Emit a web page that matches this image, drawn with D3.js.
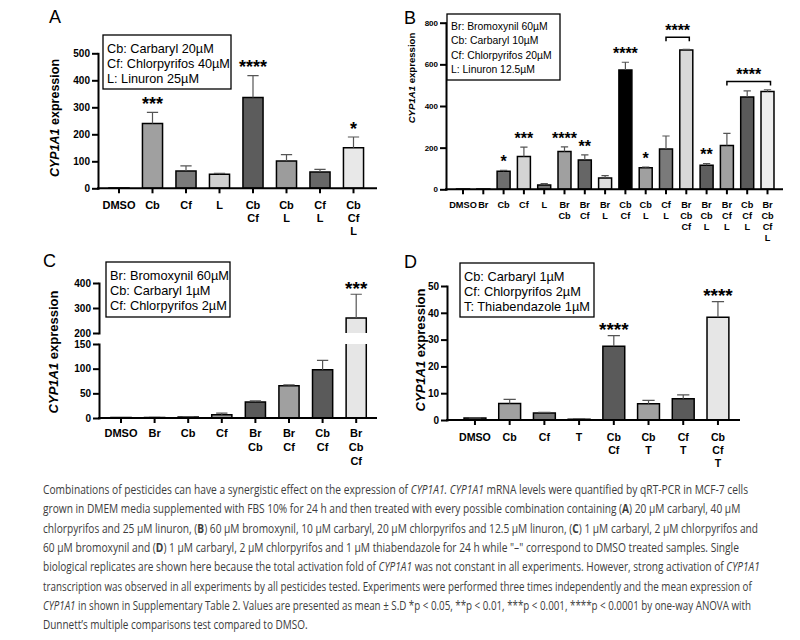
<!DOCTYPE html>
<html>
<head>
<meta charset="utf-8">
<script src="https://cdn.jsdelivr.net/npm/d3@7"></script>
<style>
  body { margin: 0; background: #fff; }
</style>
</head>
<body>
<script>
// ---- data ----
var catsA = ["DMSO", "Cb", "Cf", "L", "Cb Cf", "Cb L", "Cf L", "Cb Cf L"];
var meanA = [1, 240, 64, 52, 336, 101, 60, 150];
var sdA   = [0, 41, 19, 3, 81, 24, 10, 40];
var starsA = ["", "***", "", "", "****", "", "", "*"];
var ticksA = [0, 100, 200, 300, 400, 500];
var legendA = ["Cb: Carbaryl 20µM", "Cf: Chlorpyrifos 40µM", "L: Linuron 25µM"];

var catsB = ["DMSO", "Br", "Cb", "Cf", "L", "Br Cb", "Br Cf", "Br L", "Cb Cf", "Cb L",
             "Cf L", "Br Cb Cf", "Br Cb L", "Br Cf L", "Cb Cf L", "Br Cb Cf L"];
var meanB = [1, 1, 87, 157, 21, 182, 141, 54, 573, 104, 193, 669, 115, 210, 443, 470];
var sdB   = [0, 0, 4, 46, 6, 22, 24, 12, 37, 3, 63, 3, 9, 59, 30, 8];
var starsB = ["", "", "*", "***", "", "****", "**", "", "****", "*", "", "", "**", "", "", ""];
var bracketsB = [["Cf L", "Br Cb Cf", 730, "****"], ["Br Cf L", "Br Cb Cf L", 518, "****"]];
var ticksB = [0, 200, 400, 600, 800];
var legendB = ["Br: Bromoxynil 60µM", "Cb: Carbaryl 10µM", "Cf: Chlorpyrifos 20µM", "L: Linuron 12.5µM"];

var catsC = ["DMSO", "Br", "Cb", "Cf", "Br Cb", "Br Cf", "Cb Cf", "Br Cb Cf"];
var meanC = [0.8, 1.2, 2, 6.5, 32.5, 65.5, 98, 260];
var sdC   = [0, 0.3, 0.6, 3.5, 2.3, 1.5, 19, 95];
var starsC = ["", "", "", "", "", "", "", "***"];
var ticksCLow = [0, 50, 100, 150];
var ticksCHigh = [200, 300, 400];
var legendC = ["Br: Bromoxynil 60µM", "Cb: Carbaryl 1µM", "Cf: Chlorpyrifos 2µM"];

var catsD = ["DMSO", "Cb", "Cf", "T", "Cb Cf", "Cb T", "Cf T", "Cb Cf T"];
var meanD = [0.7, 6.2, 2.6, 0.25, 27.5, 6.1, 7.9, 38.3];
var sdD   = [0.1, 1.5, 0.25, 0.15, 4, 1.2, 1.5, 5.9];
var starsD = ["", "", "", "", "****", "", "", "****"];
var ticksD = [0, 10, 20, 30, 40, 50];
var legendD = ["Cb: Carbaryl 1µM", "Cf: Chlorpyrifos 2µM", "T: Thiabendazole 1µM"];

var captionLines = [
  [["Combinations of pesticides can have a synergistic effect on the expression of ", ""], ["CYP1A1.", "i"], [" ", ""], ["CYP1A1", "i"], [" mRNA levels were quantified by qRT-PCR in MCF-7 cells", ""]],
  [["grown in DMEM media supplemented with FBS 10% for 24 h and then treated with every possible combination containing (", ""], ["A", "b"], [") 20 µM carbaryl, 40 µM", ""]],
  [["chlorpyrifos and 25 µM linuron, (", ""], ["B", "b"], [") 60 µM bromoxynil, 10 µM carbaryl, 20 µM chlorpyrifos and 12.5 µM linuron, (", ""], ["C", "b"], [") 1 µM carbaryl, 2 µM chlorpyrifos and", ""]],
  [["60 µM bromoxynil and (", ""], ["D", "b"], [") 1 µM carbaryl, 2 µM chlorpyrifos and 1 µM thiabendazole for 24 h while \"–\" correspond to DMSO treated samples. Single", ""]],
  [["biological replicates are shown here because the total activation fold of ", ""], ["CYP1A1", "i"], [" was not constant in all experiments. However, strong activation of ", ""], ["CYP1A1", "i"]],
  [["transcription was observed in all experiments by all pesticides tested. Experiments were performed three times independently and the mean expression of", ""]],
  [["CYP1A1", "i"], [" in shown in Supplementary Table 2. Values are presented as mean ± S.D *p < 0.05, **p < 0.01, ***p < 0.001, ****p < 0.0001 by one-way ANOVA with", ""]],
  [["Dunnett’s multiple comparisons test compared to DMSO.", ""]]
];
var captionWidths = [706, 698, 716, 697, 717, 709, 709, 265];

// ---- drawing ----
var FONT = "'Liberation Sans', Arial, sans-serif";
var svg = d3.select("body").append("svg").attr("width", 800).attr("height", 640);

function drawPanel(p) {
  var g = svg.append("g").attr("font-family", FONT);
  var x = d3.scaleBand().domain(p.cats).range(p.band).paddingInner(p.pad).paddingOuter(p.pad / 2);
  var bw = x.bandwidth();
  var segs = p.segs.map(function(s) {
    return {dom: s.dom, ticks: s.ticks, y: d3.scaleLinear().domain(s.dom).range(s.rng)};
  });
  var yv = function(v) {
    for (var k = 0; k < segs.length; k++) {
      if (v <= segs[k].dom[1] || k == segs.length - 1) return segs[k].y(v);
    }
  };
  var y0 = segs[0].y(0);

  // bars (split across axis breaks)
  p.cats.forEach(function(c, i) {
    var m = p.mean[i], xl = x(c), xr = xl + bw;
    segs.forEach(function(s, k) {
      if (k > 0 && m <= s.dom[0]) return;
      var yb = s.y(s.dom[0]), yt = s.y(Math.min(m, s.dom[1]));
      g.append("rect").attr("x", xl).attr("y", yt).attr("width", bw).attr("height", yb - yt)
        .attr("fill", p.fill(c));
      var d = "M" + xl + "," + yb + "V" + yt;
      d += (m <= s.dom[1]) ? "H" + xr : "M" + xr + "," + yt;
      d += "V" + yb;
      if (k == 0) d += "H" + xl;
      g.append("path").attr("d", d).attr("fill", "none").attr("stroke", "#000")
        .attr("stroke-width", 1.5);
    });
  });

  // error bars (upper only)
  p.cats.forEach(function(c, i) {
    if (!p.sd[i]) return;
    var cx = x(c) + bw / 2, yt = yv(p.mean[i] + p.sd[i]), ym = yv(p.mean[i]);
    var cw = bw * 0.28;
    g.append("path").attr("d", "M" + cx + "," + ym + "V" + yt + "M" + (cx - cw) + "," + yt + "H" + (cx + cw))
      .attr("stroke", "#555").attr("stroke-width", 1.2).attr("fill", "none");
  });

  // significance stars
  p.cats.forEach(function(c, i) {
    if (!p.stars[i]) return;
    g.append("text").attr("x", x(c) + bw / 2).attr("y", yv(p.mean[i] + p.sd[i]) + p.starDy)
      .attr("text-anchor", "middle").attr("font-size", p.starSize).attr("font-weight", "bold")
      .text(p.stars[i]);
  });

  (p.brackets || []).forEach(function(b) {
    var x1 = x(b[0]) + bw / 2, x2 = x(b[1]) + bw / 2 + 3, yb = yv(b[2]);
    g.append("path").attr("d", "M" + x1 + "," + (yb + 4) + "V" + yb + "H" + x2 + "V" + (yb + 4))
      .attr("stroke", "#000").attr("stroke-width", 1.5).attr("fill", "none");
    g.append("text").attr("x", (x1 + x2) / 2).attr("y", yb - 1).attr("text-anchor", "middle")
      .attr("font-size", p.starSize).attr("font-weight", "bold").text(b[3]);
  });

  // y axis segments
  segs.forEach(function(s) {
    var ax = g.append("g").attr("transform", "translate(" + p.x0 + ",0)")
      .call(d3.axisLeft(s.y).tickValues(s.ticks).tickSize(6).tickPadding(2).tickSizeOuter(0));
    ax.select(".domain").attr("stroke-width", 2).attr("stroke-linecap", "square");
    ax.selectAll(".tick line").attr("stroke-width", 2);
    ax.selectAll(".tick text").attr("font-size", p.tickFont).attr("font-weight", "bold")
      .attr("font-family", FONT).attr("fill", "#000");
  });

  // x axis
  g.append("line").attr("x1", p.x0 - 1).attr("x2", p.xEnd).attr("y1", y0).attr("y2", y0)
    .attr("stroke", "#000").attr("stroke-width", 2);
  p.cats.forEach(function(c) {
    var cx = x(c) + bw / 2;
    g.append("line").attr("x1", cx).attr("x2", cx).attr("y1", y0).attr("y2", y0 + 5)
      .attr("stroke", "#000").attr("stroke-width", 2);
    var t = g.append("text").attr("x", cx).attr("y", p.catY).attr("text-anchor", "middle")
      .attr("font-size", p.catFont).attr("font-weight", "bold");
    c.split(" ").forEach(function(w, j) {
      t.append("tspan").attr("x", cx).attr("dy", j ? p.catLine : 0).text(w);
    });
  });

  // y label
  var yl = g.append("text").attr("transform", "translate(" + p.ylab[0] + "," + p.ylab[1] + ") rotate(-90)")
    .attr("text-anchor", "middle").attr("dy", "0.35em").attr("font-size", p.ylab[2])
    .attr("font-weight", "bold");
  yl.append("tspan").attr("font-style", "italic").text("CYP1A1");
  yl.append("tspan").text(" expression");

  // legend box
  g.append("rect").attr("x", p.box[0]).attr("y", p.box[1]).attr("width", p.box[2]).attr("height", p.box[3])
    .attr("fill", "#fff").attr("stroke", "#000").attr("stroke-width", 1.3);
  p.legend.forEach(function(l, j) {
    g.append("text").attr("x", p.box[0] + 4).attr("y", p.legY + j * p.legStep)
      .attr("font-size", p.legFont).text(l);
  });

  // panel letter
  g.append("text").attr("x", p.letter[1]).attr("y", p.letter[2]).attr("font-size", 18).text(p.letter[0]);
}

drawPanel({
  cats: catsA, mean: meanA, sd: sdA, stars: starsA, legend: legendA,
  fill: d3.scaleOrdinal().domain(catsA).range(["#888", "#a0a0a0", "#7a7a7a", "#d0d0d0", "#5c5c5c", "#9c9c9c", "#676767", "#e8e8e8"]),
  band: [102.25, 370.25], pad: 0.4, x0: 98, xEnd: 377,
  segs: [{dom: [0, 500], rng: [188.3, 53.3], ticks: ticksA}],
  tickFont: 10, catFont: 11, catY: 209, catLine: 13,
  starSize: 18, starDy: -2.5,
  ylab: [55, 118, 12.5],
  box: [103, 35, 128, 54], legY: 52.5, legStep: 15, legFont: 12.7,
  letter: ["A", 49, 23]
});

drawPanel({
  cats: catsB, mean: meanB, sd: sdB, stars: starsB, legend: legendB, brackets: bracketsB,
  fill: d3.scaleOrdinal().domain(catsB).range(["#888", "#888", "#6e6e6e", "#d4d4d4", "#777", "#a0a0a0", "#666", "#e0e0e0",
                                                "#000", "#a0a0a0", "#7a7a7a", "#d8d8d8", "#5e5e5e", "#a0a0a0", "#5a5a5a", "#eeeeee"]),
  band: [452.85, 777.65], pad: 0.36, x0: 446, xEnd: 783,
  segs: [{dom: [0, 800], rng: [189.3, 22.7], ticks: ticksB}],
  tickFont: 8, catFont: 9.2, catY: 207.5, catLine: 11,
  starSize: 16, starDy: -3,
  ylab: [412, 78, 9.6],
  box: [447, 14, 113, 66], legY: 29.5, legStep: 14.5, legFont: 10.4,
  letter: ["B", 404, 24]
});

drawPanel({
  cats: catsC, mean: meanC, sd: sdC, stars: starsC, legend: legendC,
  fill: d3.scaleOrdinal().domain(catsC).range(["#888", "#888", "#888", "#9a9a9a", "#5a5a5a", "#a0a0a0", "#5a5a5a", "#e6e6e6"]),
  band: [104.2, 373], pad: 0.4, x0: 99, xEnd: 377,
  segs: [{dom: [0, 150], rng: [418, 344], ticks: ticksCLow},
         {dom: [200, 400], rng: [333, 283], ticks: ticksCHigh}],
  tickFont: 10, catFont: 11, catY: 437, catLine: 14,
  starSize: 19, starDy: 1,
  ylab: [53, 352, 13],
  box: [106, 262, 124, 55], legY: 279.5, legStep: 15.3, legFont: 12.8,
  letter: ["C", 43, 267]
});

drawPanel({
  cats: catsD, mean: meanD, sd: sdD, stars: starsD, legend: legendD,
  fill: d3.scaleOrdinal().domain(catsD).range(["#555", "#a0a0a0", "#777", "#cccccc", "#5a5a5a", "#a0a0a0", "#5a5a5a", "#e6e6e6"]),
  band: [457.6, 735.3], pad: 0.37, x0: 447, xEnd: 740,
  segs: [{dom: [0, 50], rng: [420, 286], ticks: ticksD}],
  tickFont: 10, catFont: 10.6, catY: 441, catLine: 13,
  starSize: 19, starDy: 0,
  ylab: [420, 350, 13],
  box: [460, 263, 134, 54], legY: 280.5, legStep: 15, legFont: 12.8,
  letter: ["D", 404, 268]
});

// caption: each line is drawn at natural width and squeezed horizontally to the width in the figure
var cap = svg.append("g").attr("font-family", "'Open Sans', 'Noto Sans', sans-serif")
  .attr("font-size", 12).attr("fill", "#3c3c3c");
captionLines.forEach(function(segs, i) {
  var lg = cap.append("g");
  var t = lg.append("text").attr("x", 0).attr("y", 0);
  segs.forEach(function(s) {
    t.append("tspan").text(s[0])
      .attr("font-style", s[1] == "i" ? "italic" : null)
      .attr("font-weight", s[1] == "b" ? "bold" : null);
  });
  var natural = t.node().getComputedTextLength();
  lg.attr("transform", "translate(43," + (494 + i * 19.3) + ") scale(" + (captionWidths[i] / natural) + ",1)");
});
</script>
</body>
</html>
